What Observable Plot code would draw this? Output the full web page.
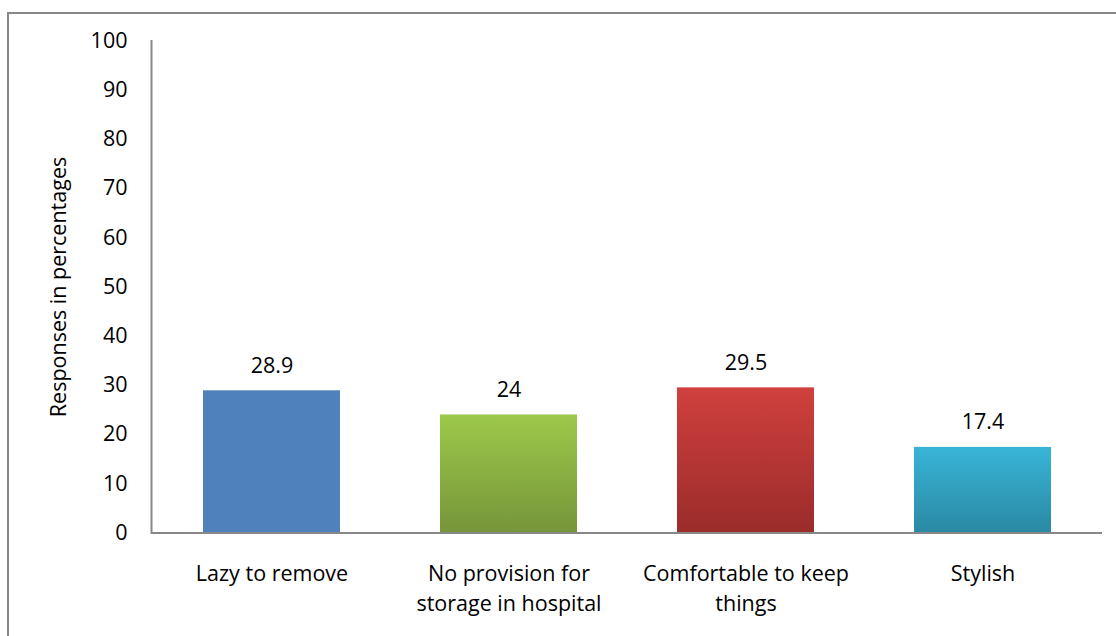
<!DOCTYPE html>
<html>
<head>
<meta charset="utf-8">
<script src="https://cdn.jsdelivr.net/npm/d3@7"></script>
<script src="https://cdn.jsdelivr.net/npm/@observablehq/plot@0.6"></script>
<style>
  html, body { margin: 0; padding: 0; background: #fff; }
  #wrap { position: relative; width: 1116px; height: 636px; overflow: hidden; }
  #border { position: absolute; left: 7px; top: 12px; width: 1200px; height: 700px;
            border-left: 2px solid #888; border-top: 2px solid #888; box-sizing: border-box; }
  #chart { position: absolute; left: 0; top: 0; }
</style>
</head>
<body>
<div id="wrap"><div id="border"></div><div id="chart"></div></div>
<script>
const categories = ["Lazy to remove", "No provision for storage in hospital", "Comfortable to keep things", "Stylish"];
const tickLabels = ["Lazy to remove", "No provision for\nstorage in hospital", "Comfortable to keep\nthings", "Stylish"];
const values = [28.9, 24, 29.5, 17.4];
const valueLabels = ["28.9", "24", "29.5", "17.4"];
const yTicks = [0, 10, 20, 30, 40, 50, 60, 70, 80, 90, 100];

const gradientStops = [
  ["#4F81BD", "#4F81BD"],
  ["#9DC94A", "#76953A"],
  ["#D0403E", "#9A2C2A"],
  ["#38B4D8", "#2A89A2"]
];

const data = categories.map((c, i) => ({cat: c, value: values[i], label: valueLabels[i], idx: i}));
const font = "'Open Sans', sans-serif";

const defs = () => {
  const d = d3.create("svg:defs");
  gradientStops.forEach(([top, bottom], i) => {
    const g = d.append("linearGradient").attr("id", "bar-grad-" + i)
      .attr("x1", 0).attr("y1", 0).attr("x2", 0).attr("y2", 1);
    g.append("stop").attr("offset", "0%").attr("stop-color", top);
    g.append("stop").attr("offset", "100%").attr("stop-color", bottom);
  });
  return d.node();
};

const chart = Plot.plot({
  width: 1116,
  height: 636,
  marginLeft: 151,
  marginRight: 14,
  marginTop: 40.5,
  marginBottom: 103.5,
  style: {fontFamily: font, fontSize: "21.5px", color: "#000", background: "transparent"},
  x: {domain: categories, paddingInner: 0.424, paddingOuter: 0.212, label: null},
  y: {domain: [0, 100], label: null},
  color: {type: "identity"},
  marks: [
    defs,
    Plot.barY(data, {
      x: "cat", y: "value",
      fill: d => "url(#bar-grad-" + d.idx + ")"
    }),
    Plot.ruleY([0], {stroke: "#888", strokeWidth: 2}),
    Plot.frame({anchor: "left", stroke: "#888", strokeWidth: 2}),
    Plot.axisY({ticks: yTicks, tickSize: 0, tickPadding: 24, label: null, fontSize: 21.5}),
    Plot.axisY({ticks: [], tickSize: 0, label: "Responses in percentages", labelAnchor: "center", labelOffset: 101, labelArrow: "none", fontSize: 21.5}),
    Plot.axisX({tickSize: 0, tickPadding: 27, lineHeight: 1.4, lineAnchor: "top", label: null, fontSize: 21.5,
      tickFormat: d => tickLabels[categories.indexOf(d)]}),
    Plot.text(data, {x: "cat", y: "value", text: "label", dy: -25, fontSize: 21.5, fill: "#000"})
  ]
});
document.getElementById("chart").appendChild(chart);
</script>
</body>
</html>
